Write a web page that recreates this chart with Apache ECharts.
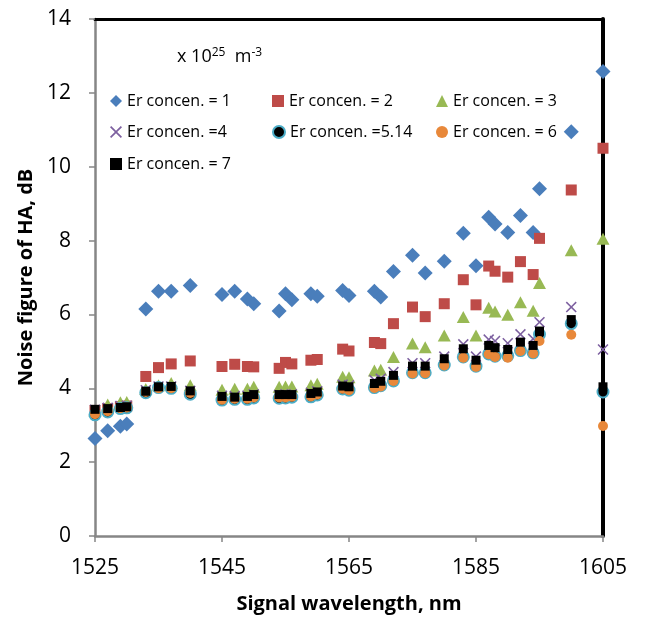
<!DOCTYPE html>
<html>
<head>
<meta charset="utf-8">
<script src="https://cdn.jsdelivr.net/npm/echarts@6/dist/echarts.min.js"></script>
<style>html,body{margin:0;padding:0;background:#fff}#c{width:645px;height:623px}</style>
</head>
<body>
<div id="c"></div>
<script>
const wavelengths = [1525,1527,1529,1530,1533,1535,1537,1540,1545,1547,1549,1550,1554,1555,1556,1559,1560,1564,1565,1569,1570,1572,1575,1577,1580,1583,1585,1587,1588,1590,1592,1594,1595,1600,1605];
const er1 = [2.64,2.85,2.97,3.03,6.15,6.63,6.63,6.78,6.54,6.63,6.42,6.29,6.09,6.56,6.40,6.56,6.49,6.65,6.51,6.63,6.47,7.16,7.60,7.12,7.44,8.20,7.32,8.63,8.45,8.22,8.68,8.22,9.40,10.95,12.58];
const er2 = [3.40,3.45,3.50,3.52,4.32,4.56,4.66,4.74,4.59,4.65,4.59,4.58,4.54,4.70,4.66,4.76,4.78,5.06,5.01,5.24,5.21,5.75,6.20,5.94,6.29,6.94,6.26,7.31,7.17,7.01,7.43,7.08,8.06,9.37,10.50];
const er3 = [3.40,3.56,3.62,3.63,3.98,4.08,4.14,4.08,3.96,3.99,3.99,4.04,4.04,4.05,4.05,4.08,4.12,4.31,4.30,4.48,4.50,4.85,5.21,5.11,5.43,5.93,5.43,6.18,6.08,5.99,6.33,6.10,6.85,7.74,8.05];
const er4 = [3.42,3.47,3.52,3.53,3.95,4.05,4.05,3.93,3.80,3.79,3.80,3.84,3.82,3.84,3.84,3.88,3.92,4.10,4.08,4.22,4.26,4.44,4.68,4.68,4.86,5.19,4.86,5.32,5.28,5.22,5.46,5.34,5.79,6.20,5.05];
const er514 = [3.28,3.36,3.45,3.47,3.88,4.02,4.00,3.84,3.68,3.70,3.70,3.74,3.73,3.74,3.76,3.77,3.82,3.98,3.95,4.02,4.07,4.20,4.42,4.42,4.63,4.85,4.60,4.93,4.87,4.88,5.02,4.96,5.46,5.75,3.90];
const er6 = [3.30,3.38,3.46,3.48,3.90,4.00,4.00,3.87,3.69,3.72,3.72,3.75,3.75,3.75,3.77,3.78,3.83,3.99,3.95,4.01,4.05,4.20,4.40,4.41,4.62,4.83,4.58,4.92,4.85,4.83,5.01,4.94,5.28,5.45,2.98];
const er7 = [3.43,3.45,3.48,3.50,3.92,4.04,4.05,3.93,3.78,3.76,3.78,3.83,3.83,3.83,3.83,3.86,3.90,4.06,4.04,4.13,4.19,4.35,4.60,4.60,4.80,5.07,4.76,5.16,5.10,5.05,5.25,5.16,5.55,5.86,4.04];
const seriesNames = ['Er concen. = 1','Er concen. = 2','Er concen. = 3','Er concen. =4','Er concen. =5.14','Er concen. = 6','Er concen. = 7'];
const xTitle = 'Signal wavelength, nm';
const yTitle = 'Noise figure of HA, dB';

const FONT = 'Open Sans';
const pairs = arr => wavelengths.map((w, i) => [w, arr[i]]);
const xPath = 'path://M0,1L1,0L5,4L9,0L10,1L6,5L10,9L9,10L5,6L1,10L0,9L4,5Z';

const styles = [
  {symbol:'diamond', size:[15,15], item:{color:'#4A7EBB'}},
  {symbol:'rect', size:[11,11], item:{color:'#BE4B48'}},
  {symbol:'triangle', size:[13,12], item:{color:'#98B954'}},
  {symbol:xPath, size:[11,11], item:{color:'#7D60A0'}},
  {symbol:'circle', size:[11,11], item:{color:'#000', borderColor:'#4BACC6', borderWidth:2}},
  {symbol:'circle', size:[10,10], item:{color:'#E8883A'}},
  {symbol:'rect', size:[9,9], item:{color:'#000'}}
];
const dataSets = [er1, er2, er3, er4, er514, er6, er7];

const series = dataSets.map((d, i) => ({
  name: seriesNames[i], type: 'scatter', data: pairs(d),
  symbol: styles[i].symbol, symbolSize: styles[i].size,
  itemStyle: Object.assign({opacity: 1}, styles[i].item), z: 2 + i, animation: false,
  emphasis: {disabled: true}
}));

const legendPos = [[110,93],[272,93],[436,93],[110,124],[272,124],[436,124],[110,156]];
const legends = seriesNames.map((n, i) => ({
  data: [n], left: legendPos[i][0], top: legendPos[i][1], padding: 0,
  itemWidth: 12, itemHeight: 12, itemGap: 5, selectedMode: false,
  textStyle: {fontFamily: FONT, fontSize: 16, color: '#000'}
}));

const chart = echarts.init(document.getElementById('c'), null, {renderer: 'canvas'});
chart.setOption({
  animation: false,
  backgroundColor: '#fff',
  grid: {left: 95, right: 42, top: 19, bottom: 87, containLabel: false},
  legend: legends,
  graphic: [{
    type: 'text', left: 177, top: 47,
    style: {
      text: 'x 10{s|25}  m{s|-3}',
      font: '18px "Open Sans"', fill: '#000',
      rich: {s: {fontSize: 12, fontFamily: FONT, verticalAlign: 'top', padding: [0,0,8,0]}}
    }
  }],
  xAxis: [{
    type: 'value', min: 1525, max: 1605, interval: 20,
    name: xTitle, nameLocation: 'middle', nameGap: 58,
    nameTextStyle: {fontFamily: FONT, fontSize: 20, fontWeight: 'bold', color: '#000'},
    axisLine: {show: true, onZero: false, lineStyle: {color: '#868686', width: 2.5}},
    axisTick: {show: true, inside: false, length: 6, lineStyle: {color: '#868686', width: 1.5}},
    axisLabel: {margin: 22, fontFamily: FONT, fontSize: 21, color: '#000', formatter: v => String(v)},
    splitLine: {show: false}
  }, {
    type: 'value', position: 'top', min: 1525, max: 1605, interval: 20,
    axisLine: {show: true, onZero: false, lineStyle: {color: '#000', width: 3}},
    axisTick: {show: false}, axisLabel: {show: false}, splitLine: {show: false}
  }],
  yAxis: [{
    type: 'value', min: 0, max: 14, interval: 2,
    name: yTitle, nameLocation: 'middle', nameGap: 55,
    nameTextStyle: {fontFamily: FONT, fontSize: 20, fontWeight: 'bold', color: '#000'},
    axisLine: {show: true, onZero: false, lineStyle: {color: '#868686', width: 2.5}},
    axisTick: {show: true, inside: false, length: 6, lineStyle: {color: '#868686', width: 1.5}},
    axisLabel: {margin: 24, fontFamily: FONT, fontSize: 21, color: '#000'},
    splitLine: {show: false}
  }, {
    type: 'value', position: 'right', min: 0, max: 14, interval: 2,
    axisLine: {show: true, onZero: false, lineStyle: {color: '#000', width: 4}},
    axisTick: {show: false}, axisLabel: {show: false}, splitLine: {show: false}
  }],
  series: series
});
</script>
</body>
</html>
